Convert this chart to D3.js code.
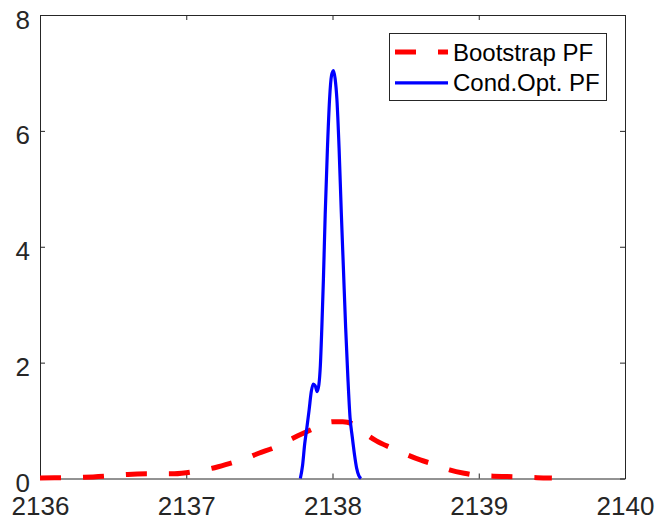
<!DOCTYPE html>
<html>
<head>
<meta charset="utf-8">
<script src="https://cdn.jsdelivr.net/npm/d3@7"></script>
<style>
  body { margin: 0; background: #fff; }
  .axis text { font-family: "Liberation Sans", Arial, Helvetica, sans-serif; fill: #262626; }
  .axis path, .axis line { stroke: #262626; }
  .legend text { font-family: "Liberation Sans", Arial, Helvetica, sans-serif; fill: #000; }
</style>
</head>
<body>
<div id="chart"></div>
<script>
// tick labels
var xTicks = [2136, 2137, 2138, 2139, 2140];
var yTicks = [0, 2, 4, 6, 8];

// Bootstrap PF (red dashed)
var bootX = [2136.0, 2136.1, 2136.2, 2136.3, 2136.45, 2136.6, 2136.75, 2136.9, 2137.0, 2137.1, 2137.2, 2137.3,
             2137.4, 2137.5, 2137.6, 2137.7, 2137.8, 2137.9, 2138.0, 2138.07, 2138.14, 2138.2, 2138.3, 2138.4,
             2138.5, 2138.6, 2138.7, 2138.8, 2138.9, 2139.0, 2139.1, 2139.2, 2139.3, 2139.4, 2139.5];
var bootY = [0.01, 0.012, 0.015, 0.02, 0.04, 0.07, 0.08, 0.08, 0.1, 0.14, 0.19, 0.26,
             0.34, 0.44, 0.53, 0.66, 0.78, 0.89, 0.98, 0.98, 0.94, 0.82, 0.65, 0.53,
             0.42, 0.32, 0.24, 0.15, 0.09, 0.05, 0.04, 0.033, 0.025, 0.015, 0.01];

// Cond.Opt. PF (blue solid)
var condX = [2137.78, 2137.795, 2137.81, 2137.825, 2137.84, 2137.855, 2137.868, 2137.882, 2137.895, 2137.907,
             2137.917, 2137.927, 2137.938, 2137.95, 2137.965, 2137.98, 2137.993, 2138.006, 2138.018, 2138.03,
             2138.045, 2138.06, 2138.075, 2138.09, 2138.105, 2138.12, 2138.135, 2138.15, 2138.165, 2138.18, 2138.195];
var condY = [0, 0.22, 0.6, 0.88, 1.18, 1.5, 1.63, 1.6, 1.5, 1.62,
             1.95, 2.6, 3.45, 4.55, 5.67, 6.55, 6.95, 7.04, 6.9, 6.55,
             5.7, 4.6, 3.6, 2.6, 1.75, 1.05, 0.72, 0.42, 0.18, 0.05, 0];

var legendNames = ["Bootstrap PF", "Cond.Opt. PF"];

var W = 658, H = 519;
var margin = {top: 15, right: 33, bottom: 40.5, left: 40};
var width = W - margin.left - margin.right,
    height = H - margin.top - margin.bottom;

var svg = d3.select("#chart").append("svg")
    .attr("width", W)
    .attr("height", H)
    .append("g")
    .attr("transform", "translate(" + margin.left + "," + margin.top + ")");

var xScale = d3.scaleLinear().domain([2136, 2140]).range([0, width]),
    yScale = d3.scaleLinear().domain([0, 8]).range([height, 0]);

// box with inward ticks on all four sides
svg.append("g")
    .attr("class", "axis")
    .attr("transform", "translate(0," + height + ")")
    .call(d3.axisBottom(xScale).tickValues(xTicks).tickFormat(d3.format("d"))
        .tickSizeInner(-5).tickSizeOuter(0).tickPadding(18))
    .selectAll("text")
    .style("font-size", "26px");

svg.append("g")
    .attr("class", "axis")
    .call(d3.axisTop(xScale).tickValues(xTicks).tickFormat("")
        .tickSizeInner(-5).tickSizeOuter(0));

svg.append("g")
    .attr("class", "axis")
    .call(d3.axisLeft(yScale).tickValues(yTicks).tickFormat(d3.format("d"))
        .tickSizeInner(-5).tickSizeOuter(0).tickPadding(10))
    .selectAll("text")
    .style("font-size", "26px")
    .attr("dy", "0.5em");

svg.append("g")
    .attr("class", "axis")
    .attr("transform", "translate(" + width + ",0)")
    .call(d3.axisRight(yScale).tickValues(yTicks).tickFormat("")
        .tickSizeInner(-5).tickSizeOuter(0));

var line = d3.line()
    .x(function(d) { return xScale(d[0]); })
    .y(function(d) { return yScale(d[1]); })
    .curve(d3.curveMonotoneX);

var bootData = d3.zip(bootX, bootY),
    condData = d3.zip(condX, condY);

svg.append("path")
    .datum(bootData)
    .attr("d", line)
    .attr("fill", "none")
    .attr("stroke", "#ff0000")
    .attr("stroke-width", 5)
    .attr("stroke-dasharray", "21,22");

svg.append("path")
    .datum(condData)
    .attr("d", line)
    .attr("fill", "none")
    .attr("stroke", "#0000ff")
    .attr("stroke-width", 3.2)
    .attr("stroke-linejoin", "round");

// legend
var legend = svg.append("g")
    .attr("class", "legend")
    .attr("transform", "translate(" + (389.5 - margin.left) + "," + (33.5 - margin.top) + ")");

legend.append("rect")
    .attr("width", 217)
    .attr("height", 67)
    .attr("fill", "#fff")
    .attr("stroke", "#262626")
    .attr("stroke-width", 1);

var styles = [
    {color: "#ff0000", w: 5, dash: "21,22"},
    {color: "#0000ff", w: 3.2, dash: null}
];

var item = legend.selectAll(".item")
    .data(legendNames)
    .enter().append("g")
    .attr("class", "item")
    .attr("transform", function(d, i) { return "translate(0," + (18.5 + i * 30.8) + ")"; });

item.append("line")
    .attr("x1", 5.5)
    .attr("x2", 58.5)
    .attr("stroke", function(d, i) { return styles[i].color; })
    .attr("stroke-width", function(d, i) { return styles[i].w; })
    .attr("stroke-dasharray", function(d, i) { return styles[i].dash; });

item.append("text")
    .attr("x", 63.5)
    .attr("dy", "0.36em")
    .style("font-size", "24px")
    .text(function(d) { return d; });
</script>
</body>
</html>
